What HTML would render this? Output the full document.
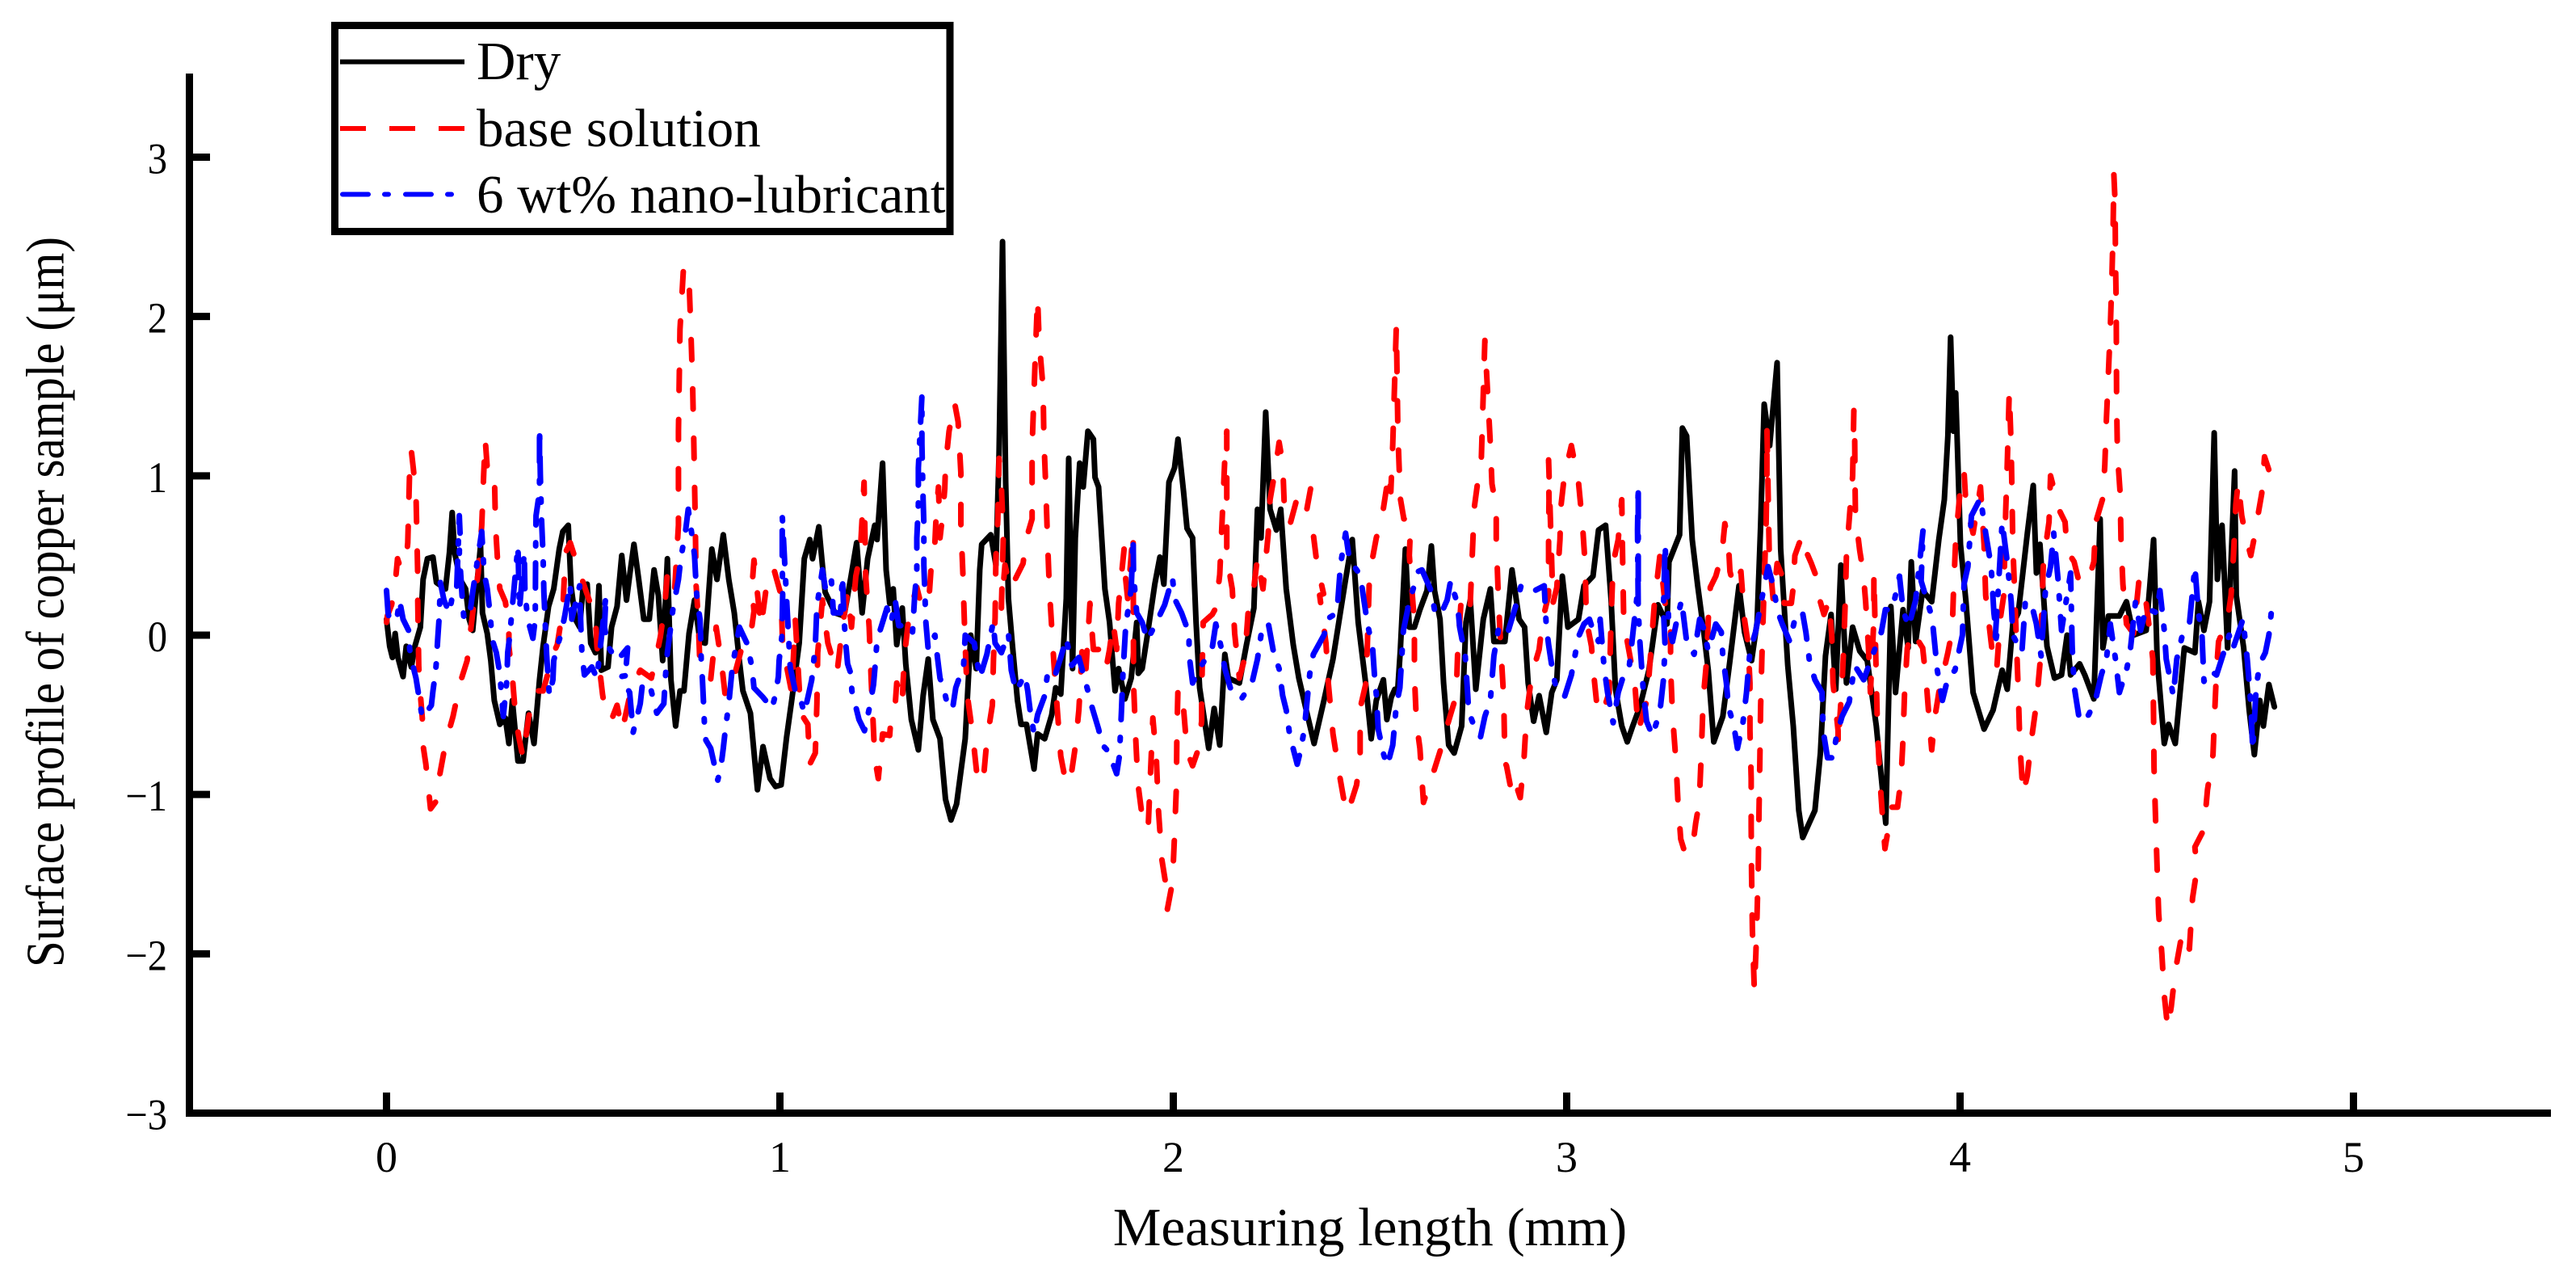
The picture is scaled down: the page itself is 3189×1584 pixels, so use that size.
<!DOCTYPE html>
<html lang="en">
<head>
<meta charset="utf-8">
<title>Surface profile of copper sample</title>
<style>
html,body{margin:0;padding:0;background:#fff;}
svg{display:block;}
text{font-family:"Liberation Serif",serif;fill:#000;}
.tick{font-size:54px;}
.title{font-size:67px;}
.leg{font-size:67px;}
</style>
</head>
<body>
<svg id="chart" xmlns="http://www.w3.org/2000/svg" width="3189" height="1584" viewBox="0 0 3189 1584">
<rect x="0" y="0" width="3189" height="1584" fill="#fff"/>
<g id="series"></g>
<g id="axes">
<line x1="234.5" y1="91" x2="234.5" y2="1382" stroke="#000" stroke-width="9"/>
<line x1="230" y1="1377.5" x2="3158" y2="1377.5" stroke="#000" stroke-width="9"/>
</g>
<text class="title" x="1696" y="1541" text-anchor="middle">Measuring length (mm)</text>
<text class="title" transform="translate(78.5,745) rotate(-90) scale(0.88,1)" text-anchor="middle">Surface profile of copper sample (μm)</text>
<g>
<rect x="414.5" y="31.5" width="761.5" height="255" fill="#fff" stroke="#000" stroke-width="9"/>
<line x1="421" y1="76.5" x2="575" y2="76.5" stroke="#000" stroke-width="6"/>
<text class="leg" x="590" y="98">Dry</text>
<line x1="421" y1="159" x2="575" y2="159" stroke="#f00" stroke-width="6" stroke-dasharray="32 29"/>
<text class="leg" x="590" y="181">base solution</text>
<line x1="424" y1="240.5" x2="561" y2="240.5" stroke="#00f" stroke-width="6" stroke-linecap="round" stroke-dasharray="32 20 5 21"/>
<text class="leg" x="590" y="263">6 wt% nano-lubricant</text>
</g>
</svg>
<script>
const xTickValues=[0,1,2,3,4,5];
const yTickValues=[-3,-2,-1,0,1,2,3];
const dryProfile=[[0,.1],[.008,-.07],[.015,-.14],[.022,.01],[.029,-.14],[.042,-.26],[.05,-.07],[.063,-.2],[.072,-.07],[.086,.05],[.093,.35],[.104,.48],[.118,.49],[.127,.33],[.15,.29],[.16,.52],[.167,.77],[.173,.52],[.187,.35],[.201,.29],[.21,.1],[.219,.03],[.228,.27],[.239,.56],[.244,.14],[.256,.01],[.265,-.16],[.274,-.41],[.288,-.56],[.302,-.52],[.311,-.68],[.32,-.41],[.334,-.79],[.347,-.79],[.361,-.49],[.375,-.68],[.389,-.28],[.398,-.07],[.412,.18],[.425,.29],[.439,.54],[.448,.65],[.462,.69],[.469,.31],[.48,.1],[.491,.05],[.5,.31],[.51,.32],[.519,-.05],[.531,-.11],[.54,.31],[.546,-.22],[.563,-.2],[.572,.05],[.586,.18],[.598,.5],[.61,.22],[.62,.41],[.629,.57],[.641,.35],[.654,.1],[.668,.1],[.68,.41],[.691,.25],[.702,-.16],[.714,.48],[.723,-.28],[.735,-.57],[.746,-.35],[.756,-.35],[.769,.01],[.783,.22],[.797,-.04],[.81,-.05],[.827,.54],[.84,.35],[.856,.63],[.87,.35],[.884,.14],[.897,-.16],[.906,-.35],[.925,-.49],[.943,-.97],[.957,-.7],[.975,-.9],[.989,-.95],[1.003,-.94],[1.017,-.64],[1.03,-.41],[1.049,-.05],[1.062,.48],[1.076,.6],[1.083,.48],[1.099,.68],[1.108,.44],[1.115,.27],[1.14,.14],[1.163,.12],[1.181,.37],[1.195,.58],[1.209,.14],[1.223,.48],[1.241,.69],[1.247,.6],[1.261,1.08],[1.27,.41],[1.279,.2],[1.288,.29],[1.297,-.06],[1.311,.17],[1.32,-.18],[1.334,-.53],[1.352,-.72],[1.364,-.38],[1.377,-.15],[1.389,-.53],[1.407,-.65],[1.421,-1.03],[1.435,-1.16],[1.449,-1.06],[1.471,-.65],[1.485,0],[1.499,-.21],[1.508,.41],[1.513,.57],[1.536,.63],[1.549,.44],[1.557,1.14],[1.566,2.47],[1.574,.96],[1.581,.23],[1.591,-.06],[1.604,-.41],[1.613,-.56],[1.627,-.56],[1.646,-.84],[1.655,-.62],[1.673,-.65],[1.691,-.5],[1.701,-.33],[1.714,-.37],[1.728,.23],[1.734,1.11],[1.744,-.21],[1.751,.61],[1.762,1.08],[1.771,.93],[1.783,1.28],[1.797,1.23],[1.801,.99],[1.81,.93],[1.826,.29],[1.838,.08],[1.852,-.35],[1.861,-.21],[1.877,-.4],[1.893,-.27],[1.907,.08],[1.911,-.24],[1.921,-.21],[1.934,0],[1.953,.32],[1.966,.49],[1.976,.32],[1.989,.96],[2.003,1.05],[2.012,1.23],[2.026,.9],[2.035,.67],[2.049,.61],[2.058,.08],[2.067,-.33],[2.09,-.71],[2.104,-.46],[2.118,-.69],[2.131,-.12],[2.14,-.27],[2.168,-.3],[2.186,-.06],[2.205,.17],[2.214,.79],[2.223,.61],[2.235,1.4],[2.246,.79],[2.262,.66],[2.273,.79],[2.287,.29],[2.305,-.06],[2.319,-.27],[2.338,-.47],[2.358,-.68],[2.383,-.41],[2.406,-.15],[2.438,.35],[2.455,.6],[2.47,.08],[2.489,-.3],[2.503,-.65],[2.516,-.41],[2.534,-.28],[2.543,-.53],[2.554,-.39],[2.563,-.34],[2.57,-.36],[2.577,-.1],[2.59,.54],[2.6,.05],[2.613,.05],[2.627,.16],[2.645,.28],[2.656,.56],[2.664,.28],[2.678,.1],[2.687,-.3],[2.7,-.69],[2.714,-.74],[2.733,-.57],[2.744,.08],[2.755,.22],[2.769,-.34],[2.788,.1],[2.806,.29],[2.815,-.04],[2.843,-.04],[2.861,.41],[2.879,.1],[2.893,.05],[2.902,-.3],[2.916,-.54],[2.93,-.38],[2.948,-.61],[2.962,-.36],[2.975,-.28],[2.989,.37],[3.003,.05],[3.03,.1],[3.044,.31],[3.067,.37],[3.081,.66],[3.099,.69],[3.113,.22],[3.124,-.34],[3.14,-.57],[3.154,-.67],[3.168,-.57],[3.186,-.45],[3.209,-.22],[3.232,.19],[3.255,.07],[3.26,.46],[3.287,.63],[3.294,1.3],[3.305,1.25],[3.319,.6],[3.333,.31],[3.347,.05],[3.36,-.22],[3.374,-.67],[3.397,-.51],[3.415,-.16],[3.438,.31],[3.452,.02],[3.47,-.16],[3.484,.08],[3.493,.69],[3.502,1.45],[3.516,1.19],[3.535,1.71],[3.544,.54],[3.562,-.19],[3.576,-.57],[3.59,-1.1],[3.6,-1.27],[3.631,-1.1],[3.645,-.74],[3.658,-.13],[3.672,.13],[3.684,-.34],[3.697,.44],[3.711,-.3],[3.727,.05],[3.745,-.1],[3.764,-.16],[3.787,-.57],[3.811,-1.18],[3.824,.18],[3.836,-.36],[3.855,.16],[3.868,-.08],[3.876,.46],[3.887,-.04],[3.905,.28],[3.928,.21],[3.946,.6],[3.96,.85],[3.969,1.25],[3.976,1.87],[3.983,1.28],[3.989,1.52],[4.001,.57],[4.015,.21],[4.033,-.36],[4.061,-.59],[4.084,-.47],[4.107,-.22],[4.12,-.34],[4.134,.07],[4.148,.14],[4.171,.64],[4.186,.94],[4.194,.39],[4.203,.57],[4.221,-.07],[4.24,-.27],[4.258,-.25],[4.272,0],[4.281,-.25],[4.304,-.18],[4.317,-.25],[4.34,-.4],[4.356,.73],[4.363,-.08],[4.377,.12],[4.405,.12],[4.423,.21],[4.441,0],[4.473,.03],[4.492,.6],[4.501,-.15],[4.519,-.68],[4.53,-.56],[4.547,-.68],[4.57,-.08],[4.597,-.11],[4.606,.21],[4.62,.03],[4.634,.21],[4.646,1.27],[4.654,.35],[4.666,.69],[4.68,-.08],[4.698,1.03],[4.702,.25],[4.721,-.08],[4.735,-.47],[4.748,-.75],[4.762,-.41],[4.771,-.57],[4.785,-.31],[4.799,-.45]];
const baseSolutionProfile=[[0,.08],[.002,.12],[.013,.19],[.022,.32],[.028,.48],[.036,.42],[.05,.47],[.054,.58],[.059,1.05],[.063,1.16],[.068,1.05],[.075,.88],[.079,.41],[.079,.27],[.082,-.2],[.086,-.37],[.091,-.52],[.091,-.66],[.1,-.81],[.112,-1.09],[.127,-1.04],[.132,-.92],[.15,-.68],[.169,-.51],[.187,-.3],[.205,-.16],[.219,.14],[.233,.39],[.242,.69],[.247,1.01],[.251,1.23],[.256,1.05],[.274,1.05],[.277,.69],[.283,.44],[.288,.29],[.302,.21],[.311,.05],[.311,-.07],[.32,-.26],[.329,-.54],[.338,-.66],[.347,-.77],[.361,-.52],[.375,-.35],[.398,-.35],[.425,-.11],[.434,-.06],[.448,.16],[.455,.52],[.467,.58],[.485,.44],[.508,.27],[.531,.11],[.535,-.07],[.549,-.37],[.558,-.51],[.572,-.53],[.586,-.44],[.599,-.6],[.622,-.34],[.645,-.22],[.673,-.27],[.687,-.12],[.696,-.01],[.708,.2],[.714,.39],[.732,.27],[.742,.69],[.742,1.28],[.746,1.92],[.755,2.31],[.769,2.23],[.774,1.89],[.778,1.58],[.781,1.24],[.785,.69],[.787,.31],[.792,.12],[.797,-.2],[.824,-.28],[.838,.05],[.852,-.18],[.861,-.38],[.879,-.3],[.902,-.09],[.925,-.01],[.934,.15],[.929,.3],[.934,.47],[.952,.05],[.966,.31],[.984,.42],[1.003,.25],[1.007,-.07],[1.03,-.36],[1.039,.1],[1.053,-.49],[1.071,-.56],[1.076,-.81],[1.09,-.74],[1.094,-.43],[1.096,-.11],[1.108,.22],[1.122,-.05],[1.145,-.24],[1.159,.05],[1.172,.27],[1.182,.05],[1.193,.37],[1.204,.5],[1.214,.96],[1.218,.37],[1.227,.05],[1.232,-.28],[1.241,-.77],[1.25,-.9],[1.261,-.62],[1.279,-.63],[1.284,-.46],[1.293,-.44],[1.297,-.3],[1.311,-.43],[1.313,-.3],[1.317,-.12],[1.329,.14],[1.348,.3],[1.361,.17],[1.38,.27],[1.384,.41],[1.393,.53],[1.398,.79],[1.403,.93],[1.407,.61],[1.414,.76],[1.419,.92],[1.421,1.06],[1.43,1.28],[1.444,1.46],[1.453,1.34],[1.46,1.02],[1.46,.7],[1.465,.39],[1.469,.08],[1.471,-.06],[1.476,-.37],[1.49,-.62],[1.503,-.93],[1.517,-.91],[1.526,-.66],[1.54,-.44],[1.543,-.15],[1.547,.11],[1.549,.49],[1.554,.73],[1.557,1.11],[1.563,.93],[1.568,.63],[1.563,.17],[1.572,.44],[1.586,.29],[1.604,.38],[1.618,.45],[1.627,.61],[1.641,.73],[1.641,1.18],[1.65,1.8],[1.655,2.12],[1.659,1.85],[1.669,1.55],[1.671,1.23],[1.676,.92],[1.68,.61],[1.685,.29],[1.696,-.16],[1.705,-.46],[1.714,-.76],[1.728,-.94],[1.742,-.85],[1.751,-.7],[1.76,-.47],[1.769,-.06],[1.778,-.21],[1.788,.2],[1.797,-.09],[1.815,-.09],[1.829,-.21],[1.838,-.09],[1.847,.08],[1.856,-.09],[1.861,.2],[1.875,.54],[1.879,.35],[1.884,.23],[1.898,.65],[1.899,-.3],[1.904,-.62],[1.91,-.93],[1.921,-1.14],[1.936,-1.22],[1.948,-.52],[1.957,-.78],[1.962,-1.09],[1.971,-1.41],[1.98,-1.55],[1.985,-1.72],[1.998,-1.55],[2.003,-1.26],[2.008,-.94],[2.009,-.63],[2.012,-.33],[2.026,-.46],[2.035,-.73],[2.049,-.82],[2.063,-.72],[2.072,-.54],[2.072,-.38],[2.076,.08],[2.099,.13],[2.108,.17],[2.118,.38],[2.131,1.11],[2.136,1.28],[2.136,.82],[2.136,.52],[2.145,.36],[2.15,.29],[2.156,.01],[2.168,-.27],[2.182,-.14],[2.191,.17],[2.205,.3],[2.214,.49],[2.228,.29],[2.241,.63],[2.246,.85],[2.26,1.05],[2.269,1.21],[2.278,1.08],[2.283,.76],[2.296,.69],[2.319,.9],[2.333,.95],[2.349,.92],[2.338,.77],[2.356,.63],[2.365,.45],[2.382,.26],[2.372,.25],[2.388,-.05],[2.394,-.3],[2.406,-.62],[2.422,-.87],[2.434,-1.04],[2.443,-1.12],[2.466,-.94],[2.475,-.76],[2.475,-.46],[2.489,-.31],[2.493,-.09],[2.498,.32],[2.507,.49],[2.516,.61],[2.53,.73],[2.548,1.02],[2.553,.9],[2.558,1.2],[2.567,1.94],[2.571,1.26],[2.577,.86],[2.586,.73],[2.604,.73],[2.6,.5],[2.613,.08],[2.613,-.25],[2.618,-.55],[2.627,-.71],[2.636,-1.05],[2.659,-.88],[2.678,-.73],[2.696,-.57],[2.719,-.38],[2.723,-.1],[2.732,.23],[2.754,.15],[2.76,.5],[2.765,.8],[2.776,1],[2.783,1.1],[2.792,1.85],[2.806,1.2],[2.81,.95],[2.821,.8],[2.821,.6],[2.827,.2],[2.833,-.1],[2.84,-.4],[2.843,-.8],[2.847,-.82],[2.861,-1],[2.87,-.93],[2.882,-1.02],[2.891,-.8],[2.898,-.5],[2.911,-.25],[2.93,-.09],[2.939,.1],[2.954,.25],[2.954,.6],[2.955,.85],[2.954,1.1],[2.965,.2],[2.975,.3],[2.983,.6],[2.985,.8],[2.994,1],[3.012,1.19],[3.03,.96],[3.04,.7],[3.047,.44],[3.05,.1],[3.063,-.07],[3.067,-.2],[3.076,-.42],[3.09,-.5],[3.108,-.36],[3.113,.1],[3.118,.45],[3.131,.6],[3.14,.85],[3.142,.5],[3.145,.1],[3.154,-.04],[3.173,-.3],[3.182,-.6],[3.205,-.4],[3.214,-.1],[3.223,.2],[3.237,.5],[3.25,.2],[3.264,.05],[3.264,-.2],[3.269,-.5],[3.278,-.8],[3.283,-1.05],[3.29,-1.28],[3.301,-1.37],[3.319,-1.35],[3.328,-1.18],[3.337,-1.05],[3.342,-.75],[3.347,-.4],[3.356,-.15],[3.36,.1],[3.365,.3],[3.379,.37],[3.388,.45],[3.397,.57],[3.402,.7],[3.411,.58],[3.415,.4],[3.425,.3],[3.443,.4],[3.452,.1],[3.461,-.05],[3.466,-.3],[3.466,-.6],[3.469,-.9],[3.469,-1.2],[3.47,-1.5],[3.472,-1.85],[3.477,-2.23],[3.481,-2],[3.484,-1.75],[3.487,-1.45],[3.489,-1.1],[3.491,-.8],[3.493,-.45],[3.496,-.15],[3.503,.4],[3.507,.7],[3.509,1],[3.509,1.3],[3.515,.5],[3.525,.22],[3.535,.45],[3.548,.37],[3.553,.2],[3.571,.2],[3.576,.3],[3.58,.5],[3.599,.63],[3.608,.53],[3.622,.45],[3.634,.37],[3.64,.25],[3.654,.13],[3.667,.22],[3.674,-.01],[3.677,-.3],[3.69,-.6],[3.69,-.7],[3.7,-.3],[3.704,-.1],[3.709,.28],[3.711,.5],[3.727,1],[3.73,1.41],[3.732,1.27],[3.733,.95],[3.734,.75],[3.745,.53],[3.754,.39],[3.76,.21],[3.767,-.07],[3.772,-.36],[3.781,.1],[3.781,.39],[3.79,-.58],[3.795,-.86],[3.804,-1.18],[3.809,-1.34],[3.827,-1.08],[3.841,-1.08],[3.85,-.9],[3.855,-.65],[3.859,-.36],[3.866,-.08],[3.877,.03],[3.905,-.08],[3.914,-.29],[3.923,-.58],[3.928,-.72],[3.937,-.5],[3.946,-.36],[3.969,-.11],[3.98,.03],[3.983,.25],[3.989,.6],[4.001,.93],[4.01,1.03],[4.015,.82],[4.033,.64],[4.052,.93],[4.061,.57],[4.065,.25],[4.084,-.15],[4.093,-.22],[4.102,.1],[4.111,.25],[4.116,.78],[4.12,1.07],[4.125,1.53],[4.13,1.18],[4.134,.57],[4.139,.25],[4.148,-.36],[4.152,-.68],[4.16,-1],[4.171,-.88],[4.18,-.68],[4.194,-.43],[4.203,-.18],[4.207,.1],[4.212,.46],[4.226,.71],[4.23,1],[4.253,.78],[4.267,.71],[4.272,.53],[4.29,.46],[4.304,.32],[4.327,.35],[4.34,.46],[4.345,.71],[4.363,.86],[4.368,1.07],[4.372,1.36],[4.377,1.64],[4.382,1.93],[4.386,2.25],[4.389,2.54],[4.391,2.89],[4.394,2.72],[4.395,2.36],[4.397,2.07],[4.398,1.46],[4.4,1.14],[4.407,.89],[4.409,.6],[4.414,.32],[4.423,.07],[4.441,.01],[4.455,.35],[4.469,.28],[4.482,.03],[4.49,-.15],[4.492,-.54],[4.493,-.83],[4.497,-1.15],[4.501,-1.47],[4.505,-1.75],[4.513,-2],[4.519,-2.26],[4.528,-2.47],[4.537,-2.33],[4.547,-2.11],[4.565,-1.86],[4.583,-1.97],[4.591,-1.65],[4.602,-1.47],[4.597,-1.33],[4.62,-1.22],[4.629,-.97],[4.643,-.75],[4.647,-.5],[4.652,-.22],[4.657,-.04],[4.68,.1],[4.689,.25],[4.695,.5],[4.701,.82],[4.707,.96],[4.716,.75],[4.728,.6],[4.739,.5],[4.75,.64],[4.757,.75],[4.767,.89],[4.774,1.12],[4.79,1]];
const nanoLubricantProfile=[[0,.28],[.004,.14],[.008,.09],[.027,.11],[.033,.22],[.042,.1],[.056,.03],[.059,-.09],[.068,-.2],[.075,-.27],[.084,-.41],[.091,-.52],[.114,-.44],[.118,-.35],[.125,-.22],[.127,-.16],[.13,-.03],[.134,.12],[.137,.33],[.146,.22],[.16,.14],[.169,.27],[.178,.27],[.185,.75],[.187,.63],[.185,.52],[.192,.25],[.196,.12],[.21,.1],[.219,.27],[.242,.65],[.248,.39],[.256,.29],[.262,.16],[.269,-.03],[.279,-.11],[.288,-.24],[.292,-.37],[.297,-.51],[.306,-.28],[.308,-.11],[.313,-.01],[.32,.18],[.334,.56],[.338,.16],[.35,.52],[.352,.27],[.359,.1],[.372,-.02],[.378,.1],[.379,.52],[.38,.75],[.389,.9],[.389,1.3],[.391,1.01],[.394,.73],[.398,.5],[.4,.27],[.405,-.01],[.407,-.12],[.411,-.28],[.414,-.38],[.423,-.28],[.425,-.16],[.434,-.07],[.444,.01],[.453,.12],[.467,.32],[.471,.1],[.491,.31],[.494,.05],[.497,-.12],[.503,-.25],[.522,-.2],[.535,-.27],[.558,.25],[.554,.05],[.563,-.07],[.586,-.16],[.613,-.08],[.609,-.2],[.618,-.25],[.595,-.26],[.618,-.36],[.627,-.61],[.645,-.43],[.65,-.32],[.668,-.3],[.677,-.39],[.687,-.49],[.705,-.43],[.709,-.26],[.714,-.11],[.728,.16],[.742,.35],[.748,.48],[.76,.65],[.767,.79],[.778,.6],[.783,.5],[.787,.31],[.79,.21],[.797,.1],[.799,-.04],[.8,-.16],[.803,-.28],[.806,-.43],[.808,-.55],[.812,-.66],[.824,-.71],[.833,-.81],[.842,-.91],[.851,-.81],[.856,-.71],[.861,-.6],[.87,-.43],[.879,-.2],[.897,.05],[.916,-.05],[.929,-.2],[.934,-.33],[.957,-.39],[.98,-.46],[.989,-.37],[.996,-.26],[.998,-.16],[1.005,-.01],[1.007,.25],[1.006,.48],[1.006,.64],[1.006,.75],[1.026,-.2],[1.039,-.35],[1.049,-.37],[1.062,-.49],[1.072,-.38],[1.081,-.28],[1.09,-.07],[1.094,.18],[1.108,.41],[1.117,.27],[1.131,.34],[1.136,.14],[1.154,.14],[1.159,.37],[1.163,.1],[1.168,-.07],[1.172,-.18],[1.18,-.24],[1.183,-.35],[1.201,-.53],[1.215,-.6],[1.229,-.44],[1.238,-.31],[1.242,-.19],[1.247,-.03],[1.261,.08],[1.272,.17],[1.283,.08],[1.293,.22],[1.302,.06],[1.32,.06],[1.337,.01],[1.343,.26],[1.348,.39],[1.348,.61],[1.352,.82],[1.352,1.05],[1.361,1.5],[1.361,1.2],[1.364,.85],[1.366,.7],[1.366,.44],[1.368,.3],[1.371,.08],[1.377,-.09],[1.394,0],[1.401,-.15],[1.407,-.27],[1.416,-.33],[1.428,-.46],[1.439,-.46],[1.447,-.33],[1.467,-.19],[1.471,0],[1.494,-.05],[1.508,-.27],[1.526,-.12],[1.542,.08],[1.547,-.05],[1.563,-.11],[1.581,.01],[1.588,-.22],[1.6,-.35],[1.623,-.25],[1.63,-.35],[1.636,-.47],[1.646,-.62],[1.655,-.5],[1.673,-.38],[1.682,-.21],[1.701,-.24],[1.714,-.14],[1.728,-.02],[1.742,-.19],[1.76,-.14],[1.783,-.35],[1.792,-.44],[1.81,-.59],[1.82,-.69],[1.835,-.73],[1.856,-.87],[1.863,-.76],[1.868,-.49],[1.872,-.24],[1.879,.06],[1.893,.29],[1.898,.61],[1.899,.38],[1.907,.14],[1.921,.08],[1.934,-.03],[1.953,.06],[1.978,.19],[1.998,.36],[2.003,.23],[2.021,.14],[2.04,.01],[2.04,-.12],[2.049,-.3],[2.067,-.21],[2.099,-.08],[2.108,.07],[2.122,-.08],[2.131,-.21],[2.145,-.33],[2.173,-.4],[2.2,-.3],[2.214,-.15],[2.223,0],[2.241,.08],[2.255,-.11],[2.269,-.21],[2.278,-.38],[2.287,-.47],[2.296,-.63],[2.315,-.81],[2.324,-.72],[2.333,-.59],[2.347,-.24],[2.356,-.12],[2.383,0],[2.397,.11],[2.416,.14],[2.425,.44],[2.438,.64],[2.448,.47],[2.475,.38],[2.484,.23],[2.493,.08],[2.507,-.09],[2.512,-.27],[2.516,-.37],[2.521,-.59],[2.535,-.75],[2.544,-.82],[2.558,-.69],[2.567,-.44],[2.576,-.33],[2.585,.03],[2.599,.2],[2.623,.4],[2.632,.41],[2.655,.28],[2.664,.16],[2.678,.12],[2.696,.22],[2.705,.34],[2.723,.19],[2.728,.05],[2.742,-.13],[2.748,-.36],[2.751,-.48],[2.769,-.6],[2.781,-.64],[2.792,-.51],[2.806,-.41],[2.815,-.13],[2.829,.07],[2.852,.03],[2.875,.22],[2.884,.31],[2.911,.27],[2.943,.31],[2.948,.06],[2.954,-.06],[2.962,-.19],[2.971,-.31],[2.994,-.39],[3.012,-.25],[3.03,-.01],[3.044,.07],[3.058,.1],[3.067,.03],[3.081,-.04],[3.085,.1],[3.095,-.2],[3.104,-.36],[3.118,-.55],[3.131,-.36],[3.145,-.25],[3.159,-.2],[3.17,.05],[3.182,.31],[3.182,.54],[3.182,.94],[3.18,.66],[3.182,.16],[3.186,-.04],[3.195,-.36],[3.203,-.54],[3.218,-.63],[3.237,-.48],[3.246,-.28],[3.25,-.07],[3.246,.16],[3.25,.57],[3.255,.31],[3.26,.05],[3.269,-.04],[3.278,.07],[3.292,.22],[3.305,-.04],[3.324,-.12],[3.338,.1],[3.347,.05],[3.36,-.1],[3.379,.07],[3.393,.02],[3.397,-.13],[3.406,-.3],[3.411,-.45],[3.425,-.57],[3.434,-.71],[3.448,-.55],[3.457,-.36],[3.466,-.1],[3.48,.02],[3.493,.19],[3.512,.43],[3.525,.31],[3.536,.15],[3.548,.07],[3.567,-.04],[3.58,.1],[3.599,.15],[3.608,.02],[3.617,-.16],[3.631,-.28],[3.649,-.36],[3.652,-.6],[3.663,-.77],[3.677,-.77],[3.686,-.63],[3.7,-.51],[3.718,-.42],[3.732,-.19],[3.755,-.28],[3.777,-.13],[3.8,.02],[3.81,.16],[3.828,.16],[3.846,.37],[3.855,.16],[3.869,.05],[3.887,.22],[3.906,.66],[3.901,.34],[3.929,.11],[3.942,-.22],[3.955,-.41],[3.969,-.27],[3.987,-.22],[4.006,0],[4.01,.32],[4.02,.43],[4.029,.75],[4.052,.86],[4.065,.64],[4.079,.43],[4.086,.14],[4.093,0],[4.088,-.07],[4.097,.28],[4.107,.71],[4.12,.46],[4.13,.21],[4.134,0],[4.157,-.11],[4.166,.21],[4.18,.21],[4.194,.07],[4.206,-.13],[4.217,.28],[4.23,.43],[4.238,.64],[4.249,.35],[4.258,.03],[4.281,.39],[4.285,-.07],[4.29,-.32],[4.304,-.54],[4.327,-.5],[4.345,-.4],[4.359,-.25],[4.372,-.15],[4.382,.07],[4.395,-.15],[4.405,-.36],[4.423,-.22],[4.432,-.11],[4.446,.21],[4.459,.03],[4.473,.17],[4.5,.14],[4.508,.28],[4.519,.03],[4.524,-.15],[4.542,-.38],[4.551,-.15],[4.565,0],[4.583,.07],[4.597,.43],[4.606,.14],[4.615,0],[4.62,-.29],[4.634,-.22],[4.652,-.25],[4.67,-.11],[4.684,0],[4.693,-.09],[4.719,.1],[4.73,-.15],[4.739,-.43],[4.744,-.72],[4.753,-.32],[4.762,-.18],[4.776,-.11],[4.785,0],[4.794,.21]];
const svgNS='http://www.w3.org/2000/svg';
const chart=document.getElementById('chart');
const seriesGroup=document.getElementById('series');
const axesGroup=document.getElementById('axes');
function xScale(v){return 478.5+v*487;}
function yScale(v){return 786-v*197.17;}
function toPoints(rows){return rows.map(function(r){return xScale(r[0]).toFixed(1)+','+yScale(r[1]).toFixed(1);}).join(' ');}
function drawSeries(rows,color,dash,cap){
  const line=document.createElementNS(svgNS,'polyline');
  line.setAttribute('points',toPoints(rows));
  line.setAttribute('fill','none');
  line.setAttribute('stroke',color);
  line.setAttribute('stroke-width','7');
  line.setAttribute('stroke-linejoin','round');
  line.setAttribute('stroke-linecap',cap);
  if(dash){line.setAttribute('stroke-dasharray',dash);}
  seriesGroup.appendChild(line);
  return line;
}
const dryLine=drawSeries(dryProfile,'#000','', 'round');


const baseLine=drawSeries(baseSolutionProfile,'#f00','25 36','round');


const nanoLine=drawSeries(nanoLubricantProfile,'#00f','31 21 4 22','round');


xTickValues.forEach(function(v){
  const x=xScale(v);
  const tick=document.createElementNS(svgNS,'line');
  
  
  tick.setAttribute('x1',x);tick.setAttribute('x2',x);
  tick.setAttribute('y1',1352);tick.setAttribute('y2',1375);
  tick.setAttribute('stroke','#000');tick.setAttribute('stroke-width','9');
  axesGroup.appendChild(tick);
  const label=document.createElementNS(svgNS,'text');
  
  
  label.setAttribute('class','tick');
  label.setAttribute('x',x);label.setAttribute('y',1450);
  label.setAttribute('text-anchor','middle');
  label.textContent=String(v);
  chart.appendChild(label);
});
yTickValues.forEach(function(v){
  const y=yScale(v);
  const tick=document.createElementNS(svgNS,'line');
  
  
  tick.setAttribute('x1',237);tick.setAttribute('x2',260);
  tick.setAttribute('y1',y);tick.setAttribute('y2',y);
  tick.setAttribute('stroke','#000');tick.setAttribute('stroke-width','9');
  axesGroup.appendChild(tick);
  const label=document.createElementNS(svgNS,'text');
  
  
  label.setAttribute('class','tick');
  label.setAttribute('transform','translate(207,'+(y+20)+') scale(0.9,1)');
  label.setAttribute('text-anchor','end');
  label.textContent=String(v).replace('-','\u2212');
  chart.appendChild(label);
});
</script>
</body>
</html>
